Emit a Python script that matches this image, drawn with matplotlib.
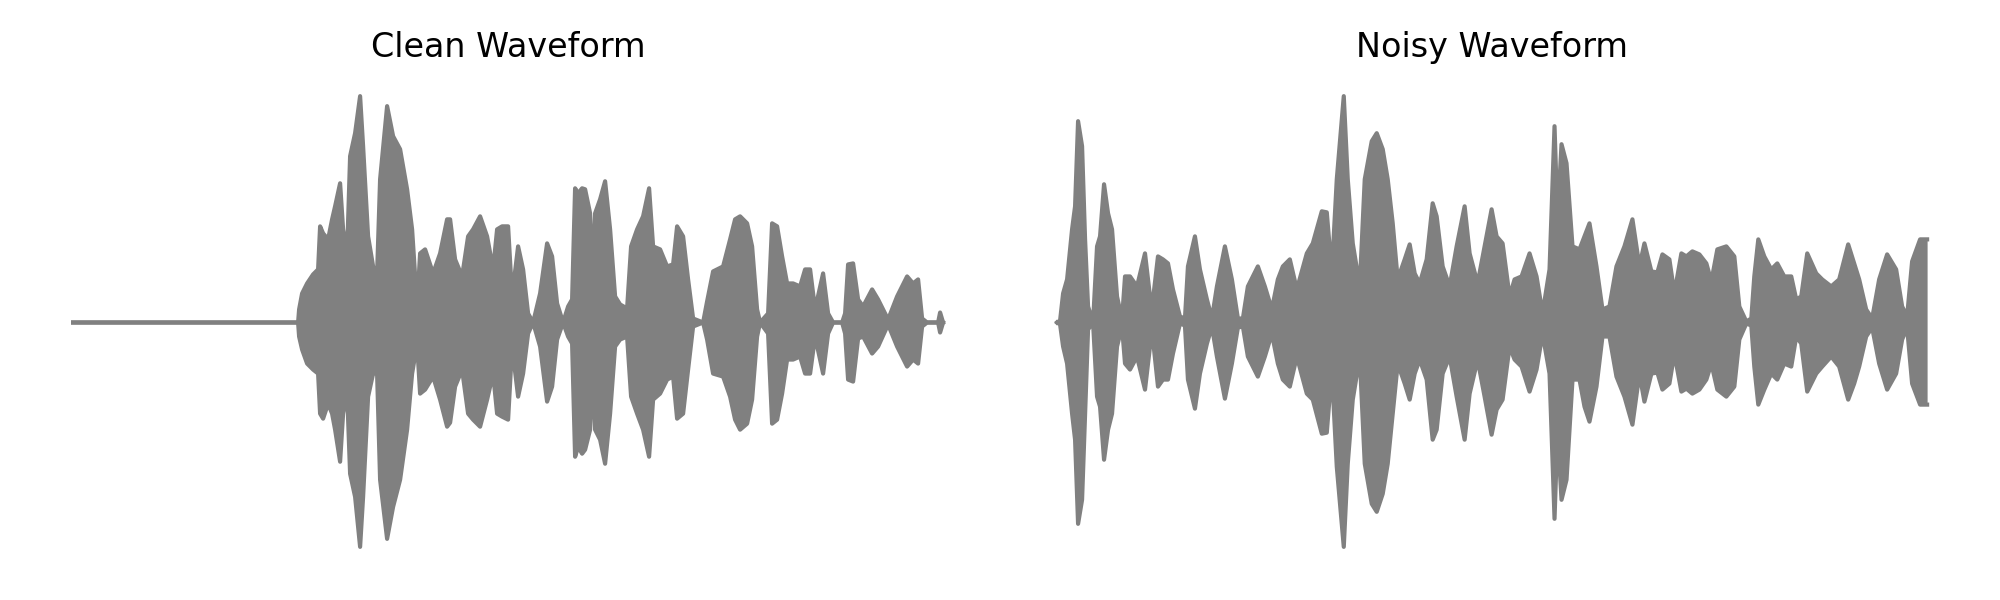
import numpy as np
import matplotlib.pyplot as plt

# Waveform envelopes.
# frame = envelope frame index (hop ~4.6 ms), upper/lower = peak amplitude in 1/226 of full scale
HOP = 0.0046
FULL = 226.0

clean_frame = [0, 225, 226, 229, 234, 240, 245, 247, 250, 255,
               259, 262, 267, 270, 274, 277, 282, 287, 290, 295,
               300, 304, 307, 314, 320, 327, 334, 339, 344, 347,
               352, 360, 367, 374, 377, 382, 389, 395, 400, 407,
               414, 420, 424, 429, 435, 439, 445, 450, 455, 460,
               467, 474, 479, 484, 490, 495, 499, 502, 505, 509,
               512, 517, 520, 522, 527, 532, 537, 542, 547, 554,
               558, 564, 570, 576, 580, 587, 594, 600, 604, 610,
               615, 620, 630, 634, 640, 650, 657, 662, 667, 674,
               679, 684, 687, 695, 699, 704, 709, 714, 720, 727,
               732, 737, 742, 750, 755, 760, 769, 772, 775, 780,
               785, 790, 799, 805, 815, 824, 834, 840, 845, 849,
               854, 865, 867, 870]
clean_upper = [0, 0, 13, 29, 39, 48, 53, 96, 89, 83,
               103, 116, 139, 93, 69, 166, 189, 226, 176, 86,
               56, 49, 143, 216, 186, 173, 133, 93, 16, 69,
               73, 49, 69, 103, 103, 63, 46, 86, 93, 106,
               86, 53, 93, 96, 96, 26, 76, 53, 9, 0,
               29, 79, 66, 19, 0, 16, 23, 134, 129, 134,
               133, 109, 40, 109, 123, 141, 93, 26, 18, 14,
               76, 93, 106, 134, 76, 73, 56, 58, 96, 86,
               43, 4, 0, 21, 51, 56, 83, 103, 106, 99,
               76, 13, 0, 9, 99, 96, 66, 39, 39, 36,
               53, 53, 13, 49, 9, 0, 0, 9, 58, 59,
               23, 16, 33, 23, 3, 26, 46, 39, 43, 4,
               0, 0, 10, 0]
clean_lower = [0, 0, 14, 27, 41, 47, 51, 91, 96, 81,
               91, 107, 139, 91, 69, 151, 174, 224, 174, 74,
               51, 51, 157, 216, 184, 157, 107, 51, 21, 71,
               67, 54, 77, 104, 100, 64, 47, 91, 97, 104,
               77, 51, 91, 94, 97, 24, 74, 51, 11, 0,
               24, 79, 64, 17, 0, 14, 21, 134, 124, 131,
               127, 107, 40, 107, 117, 141, 91, 24, 17, 14,
               74, 91, 107, 134, 77, 71, 57, 54, 96, 91,
               47, 4, 0, 17, 51, 54, 74, 97, 107, 101,
               77, 14, 0, 11, 101, 97, 71, 37, 37, 34,
               51, 51, 14, 51, 11, 0, 0, 11, 57, 59,
               16, 14, 31, 24, 2, 24, 44, 37, 41, 4,
               0, 0, 10, 0]

noisy_frame = [0, 3, 6, 10, 15, 18, 21, 25, 28, 31,
               36, 40, 43, 47, 51, 55, 60, 65, 68, 73,
               80, 88, 93, 96, 101, 106, 111, 116, 123, 128,
               131, 138, 143, 150, 155, 160, 168, 175, 181, 186,
               191, 196, 201, 208, 215, 221, 226, 233, 240, 250,
               256, 265, 270, 275, 280, 287, 291, 296, 303, 308,
               315, 320, 326, 331, 336, 341, 348, 353, 358, 363,
               370, 376, 380, 386, 393, 400, 408, 413, 421, 428,
               435, 440, 446, 453, 458, 465, 473, 480, 486, 493,
               498, 501, 505, 510, 516, 523, 528, 533, 540, 546,
               553, 560, 568, 576, 583, 588, 595, 601, 606, 613,
               618, 625, 630, 636, 643, 650, 655, 661, 670, 678,
               683, 690, 695, 698, 702, 708, 715, 721, 728, 735,
               740, 745, 751, 760, 766, 775, 783, 792, 798, 803,
               810, 816, 823, 831, 840, 846, 851, 856, 864, 869,
               871]
noisy_upper = [0, 2, 29, 43, 93, 116, 201, 176, 83, 16,
               0, 76, 86, 138, 109, 93, 26, 3, 46, 46,
               36, 69, 26, 23, 66, 63, 59, 33, 6, 4,
               56, 86, 53, 23, 4, 36, 76, 43, 4, 4,
               36, 46, 56, 36, 13, 43, 56, 63, 33, 69,
               79, 111, 110, 49, 143, 226, 143, 79, 36, 143,
               181, 189, 173, 143, 99, 43, 63, 78, 49, 39,
               63, 119, 106, 56, 36, 76, 116, 69, 39, 76,
               113, 86, 79, 26, 43, 46, 69, 46, 9, 53,
               196, 103, 178, 159, 76, 73, 86, 99, 56, 13,
               16, 56, 76, 103, 56, 79, 51, 50, 68, 63,
               29, 69, 66, 71, 68, 59, 41, 73, 76, 66,
               16, 1, 4, 46, 83, 66, 53, 59, 46, 46,
               23, 26, 69, 49, 43, 36, 43, 78, 59, 43,
               13, 4, 43, 68, 53, 16, 6, 61, 83, 83,
               83]
noisy_lower = [0, 2, 24, 41, 91, 117, 201, 177, 91, 7,
               0, 74, 84, 137, 107, 91, 24, 4, 41, 47,
               34, 67, 24, 17, 64, 57, 57, 31, 1, 3,
               57, 86, 51, 21, 4, 34, 76, 41, 5, 4,
               34, 44, 54, 34, 11, 41, 57, 64, 34, 71,
               77, 111, 110, 47, 144, 224, 141, 77, 34, 141,
               181, 189, 171, 141, 91, 41, 61, 77, 51, 37,
               57, 117, 107, 51, 34, 74, 117, 71, 37, 74,
               112, 87, 77, 24, 37, 44, 69, 47, 11, 51,
               196, 107, 177, 157, 57, 57, 84, 99, 64, 14,
               14, 54, 74, 102, 51, 79, 51, 50, 67, 61,
               31, 69, 66, 71, 67, 57, 41, 67, 74, 64,
               17, 1, 3, 44, 82, 67, 51, 57, 41, 44,
               14, 21, 69, 51, 44, 34, 44, 77, 61, 44,
               14, 5, 41, 67, 51, 17, 5, 61, 82, 82,
               82]

titles = ['Clean Waveform', 'Noisy Waveform']
waves = [(clean_frame, clean_upper, clean_lower),
         (noisy_frame, noisy_upper, noisy_lower)]

fig = plt.figure(figsize=(10, 3))
positions = [[0.0148, 0.0475, 0.4785, 0.83],
             [0.5068, 0.0475, 0.4785, 0.83]]

for pos, title, (fr, up, lo) in zip(positions, titles, waves):
    ax = fig.add_axes(pos)
    t = np.array(fr) * HOP
    top = np.array(up) / FULL
    bot = -np.array(lo) / FULL
    ax.fill_between(t, bot, top, color='gray', lw=0)
    ax.plot(t, top, color='gray', lw=1.5)
    ax.plot(t, bot, color='gray', lw=1.5)
    span = t[-1] - t[0]
    ax.set_xlim(t[0] - 0.05 * span, t[-1] + 0.05 * span)
    ax.set_ylim(-1.1, 1.1)
    ax.set_title(title, fontsize=12)
    ax.axis('off')

fig.savefig('out.png', dpi=200)
